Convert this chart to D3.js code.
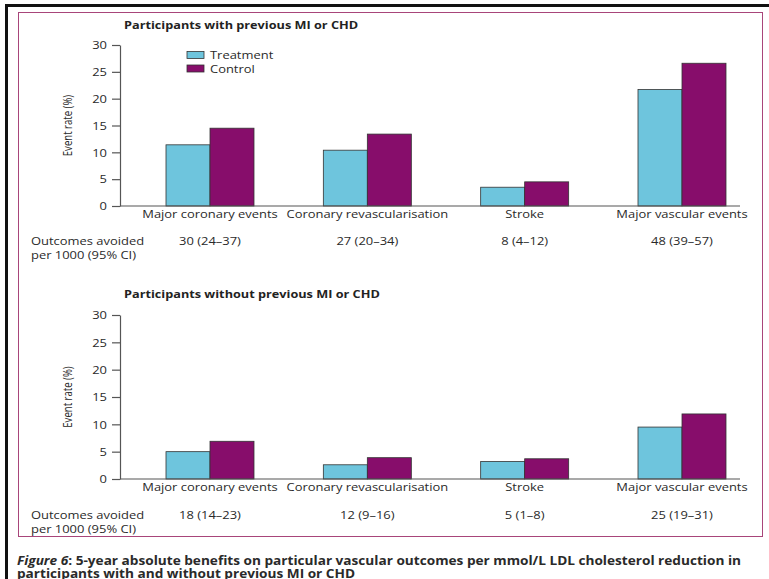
<!DOCTYPE html>
<html>
<head>
<meta charset="utf-8">
<script src="https://cdn.jsdelivr.net/npm/d3@7"></script>
<style>
  html, body { margin: 0; padding: 0; background: #fff; }
  svg { display: block; }
  text { font-family: "Open Sans", "Liberation Sans", sans-serif; fill: #2a2a2a; }
</style>
</head>
<body>
<svg id="chart" width="769" height="579"></svg>
<script>
// Outcome categories shown along each x axis
const categories = ["Major coronary events", "Coronary revascularisation", "Stroke", "Major vascular events"];
const seriesNames = ["Treatment", "Control"];

// 5-year event rates (%), participants with previous MI or CHD
const withTreatment = [11.4, 10.4, 3.5, 21.7];
const withControl = [14.5, 13.4, 4.5, 26.6];

// 5-year event rates (%), participants without previous MI or CHD
const withoutTreatment = [5.0, 2.6, 3.2, 9.5];
const withoutControl = [6.9, 3.9, 3.7, 11.9];

// Outcomes avoided per 1000 (95% CI)
const withAvoided = ["30 (24–37)", "27 (20–34)", "8 (4–12)", "48 (39–57)"];
const withoutAvoided = ["18 (14–23)", "12 (9–16)", "5 (1–8)", "25 (19–31)"];

const yTicks = [0, 5, 10, 15, 20, 25, 30];

const colors = { Treatment: "#6ec5dd", Control: "#870d6b" };
const SX = 1.2; // horizontal widening applied to the lettering

const svg = d3.select("#chart");

// text helper: places a string at (x, y) with the wide lettering
function label(parent, x, y, s, o = {}) {
  return parent.append("text")
    .attr("transform", `translate(${x},${y}) scale(${o.sx || SX},1)`)
    .attr("text-anchor", o.anchor || "start")
    .style("font-size", (o.size || 10.8) + "px")
    .style("font-weight", o.weight || "normal")
    .text(s);
}

// frame
svg.append("rect").attr("x", 5).attr("y", 4).attr("width", 764).attr("height", 3).attr("fill", "#111");
svg.append("rect").attr("x", 5).attr("y", 4).attr("width", 3).attr("height", 575).attr("fill", "#111");
svg.append("rect").attr("x", 18.5).attr("y", 12.5).attr("width", 744).attr("height", 524)
  .attr("fill", "none").attr("stroke", "#a8457a").attr("stroke-width", 1);

const x = d3.scalePoint().domain(categories).range([210, 682]);
const xs = d3.scaleBand().domain(seriesNames).range([-44, 44]).paddingInner(0);

function drawPanel(cfg) {
  const g = svg.append("g");
  const y = d3.scaleLinear().domain([0, 30]).range([cfg.y0, cfg.y1]);

  label(g, 124, cfg.titleY, cfg.title, { size: 10.6, weight: "bold" }).style("fill", "#222");

  // y axis
  const ax = g.append("g").attr("transform", "translate(120,0)")
    .call(d3.axisLeft(y).tickValues(yTicks).tickSize(8).tickSizeOuter(0).tickPadding(5));
  ax.select(".domain").attr("stroke", "#555").attr("stroke-width", 1.2);
  ax.selectAll(".tick line").attr("stroke", "#555").attr("stroke-width", 1.2);
  ax.selectAll(".tick text")
    .attr("x", null).attr("dy", null)
    .attr("transform", `translate(-13,3.8) scale(${SX},1)`)
    .style("font-size", "10.8px").style("font-family", "'Open Sans', sans-serif").attr("fill", "#333");

  // rotated axis title
  g.append("text")
    .attr("transform", `translate(72,${(cfg.y0 + cfg.y1) / 2}) scale(1.35,1) rotate(-90)`)
    .attr("text-anchor", "middle")
    .style("font-size", "9.6px")
    .text("Event rate (%)");

  // bars
  const rows = categories.map((c, i) => ({ c, vals: [cfg.treatment[i], cfg.control[i]] }));
  const grp = g.selectAll(".grp").data(rows).join("g")
    .attr("class", "grp")
    .attr("transform", d => `translate(${x(d.c)},0)`);
  grp.selectAll("rect").data(d => d.vals.map((v, j) => ({ s: seriesNames[j], v })))
    .join("rect")
    .attr("x", d => xs(d.s))
    .attr("width", xs.bandwidth())
    .attr("y", d => y(d.v))
    .attr("height", d => y(0) - y(d.v))
    .attr("fill", d => colors[d.s])
    .attr("stroke", "#333")
    .attr("stroke-width", 0.8);

  // baseline
  g.append("line").attr("x1", 120).attr("x2", 740).attr("y1", y(0)).attr("y2", y(0))
    .attr("stroke", "#555").attr("stroke-width", 1.2);

  // category labels
  categories.forEach(c => label(g, x(c), cfg.y0 + 12, c, { anchor: "middle" }));

  // outcomes avoided row
  label(g, 31, cfg.rowY, "Outcomes avoided");
  label(g, 31, cfg.rowY + 13.5, "per 1000 (95% CI)");
  categories.forEach((c, i) => label(g, x(c), cfg.rowY, cfg.avoided[i], { anchor: "middle" }));
}

drawPanel({
  title: "Participants with previous MI or CHD", titleY: 29,
  y0: 206, y1: 45, rowY: 245,
  treatment: withTreatment, control: withControl, avoided: withAvoided
});

drawPanel({
  title: "Participants without previous MI or CHD", titleY: 298,
  y0: 479, y1: 315, rowY: 519,
  treatment: withoutTreatment, control: withoutControl, avoided: withoutAvoided
});

// legend
const lg = svg.append("g");
seriesNames.forEach((s, i) => {
  const yy = 51.5 + i * 13.5;
  lg.append("rect").attr("x", 187).attr("y", yy).attr("width", 17).attr("height", 7)
    .attr("fill", colors[s]).attr("stroke", "#333").attr("stroke-width", 0.8);
  label(lg, 210, yy + 7.5, s);
});

// figure caption
const cap1 = svg.append("text")
  .attr("transform", "translate(17,564.5) scale(1.1,1)")
  .style("font-size", "12.4px").style("font-weight", "bold");
cap1.append("tspan").style("font-style", "italic").text("Figure 6");
cap1.append("tspan").text(": 5-year absolute benefits on particular vascular outcomes per mmol/L LDL cholesterol reduction in");
label(svg, 17, 577.5, "participants with and without previous MI or CHD", { size: 12.4, weight: "bold", sx: 1.1 });
</script>
</body>
</html>
